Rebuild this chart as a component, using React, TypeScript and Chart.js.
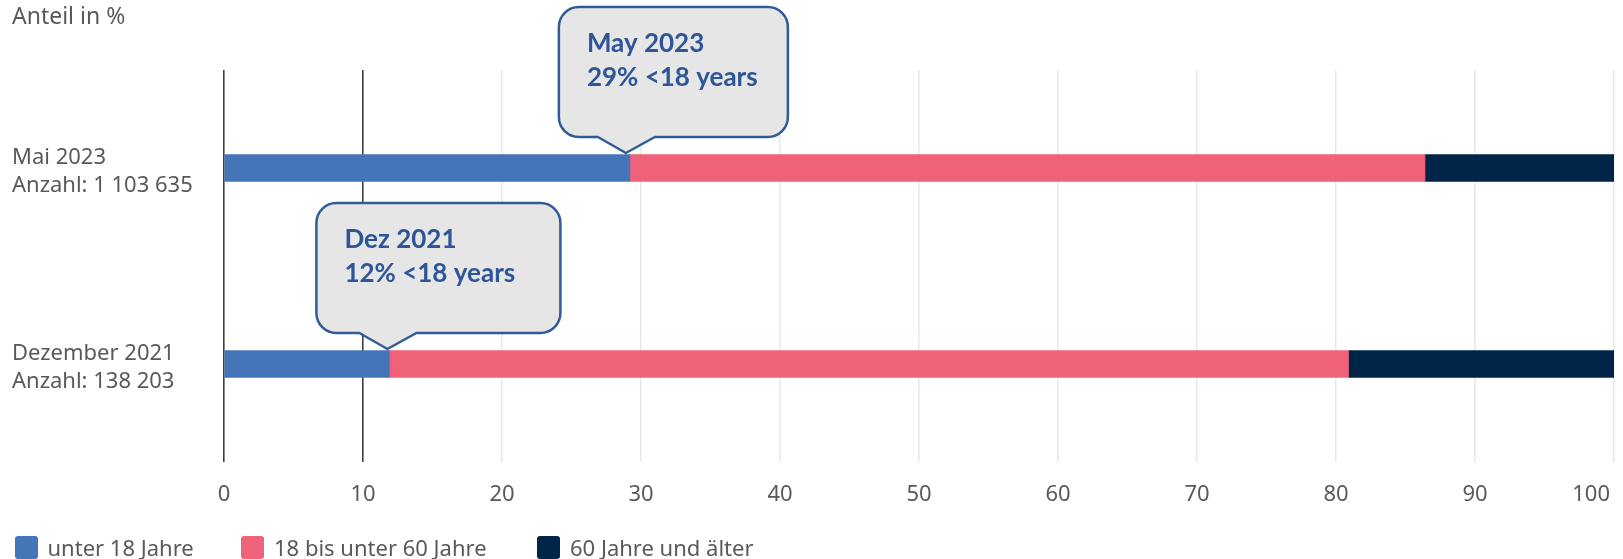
import React, { useEffect, useRef } from 'react';
import { Chart, registerables } from 'chart.js';

Chart.register(...registerables);

// ---------- data ----------
const categories: string[][] = [
  ['Mai 2023', 'Anzahl: 1 103 635'],
  ['Dezember 2021', 'Anzahl: 138 203'],
];
const seriesNames: string[] = ['unter 18 Jahre', '18 bis unter 60 Jahre', '60 Jahre und älter'];
const under18: number[] = [29.2, 11.9];
const from18to60: number[] = [57.2, 69.0];
const over60: number[] = [13.6, 19.1];
const axisTitle = 'Anteil in %';
const calloutTitles: string[] = ['May 2023', 'Dez 2021'];
const calloutTexts: string[] = ['29% <18 years', '12% <18 years'];

// ---------- styles ----------
const seriesColors = ['#4575b9', '#f06279', '#012449'];
const textColor = '#595959';
const FONT = "'Noto Sans', sans-serif";
const legendX = [14.5, 241, 537];
const X_TICK_PAD = 20;

const calloutBoxes = [
  { tipDx: -4, left: -67, width: 229 },
  { tipDx: -2, left: -71, width: 244 },
];

const calloutPlugin = {
  id: 'callouts',
  afterDatasetsDraw(chart: any) {
    const { ctx } = chart;
    const xs = chart.scales.x;
    const meta = chart.getDatasetMeta(0);
    calloutBoxes.forEach((b, i) => {
      const el = meta.data[i];
      if (!el) return;
      const { y, height } = el.getProps(['y', 'height'], true);
      const tipX = xs.getPixelForValue(under18[i]) + b.tipDx;
      const tipY = y - height / 2 - 1.5;
      const L = tipX + b.left;
      const R = L + b.width;
      const T = tipY - 146;
      const B = tipY - 16;
      const r = 20;
      const p1 = tipX - 28;
      const p2 = tipX + 29;
      ctx.save();
      ctx.beginPath();
      ctx.moveTo(L + r, T);
      ctx.lineTo(R - r, T);
      ctx.arcTo(R, T, R, T + r, r);
      ctx.lineTo(R, B - r);
      ctx.arcTo(R, B, R - r, B, r);
      ctx.lineTo(p2, B);
      ctx.lineTo(tipX, tipY);
      ctx.lineTo(p1, B);
      ctx.lineTo(L + r, B);
      ctx.arcTo(L, B, L, B - r, r);
      ctx.lineTo(L, T + r);
      ctx.arcTo(L, T, L + r, T, r);
      ctx.closePath();
      ctx.fillStyle = '#e6e6e6';
      ctx.fill();
      ctx.lineWidth = 2.5;
      ctx.strokeStyle = '#2f5b97';
      ctx.lineJoin = 'round';
      ctx.stroke();
      ctx.fillStyle = '#2e5597';
      ctx.font = "bold 26px Lato, 'Noto Sans', sans-serif";
      ctx.textAlign = 'left';
      ctx.textBaseline = 'alphabetic';
      ctx.fillText(calloutTitles[i], L + 28, T + 44.5);
      ctx.fillText(calloutTexts[i], L + 28, T + 79);
      ctx.restore();
    });
  },
  afterDraw(chart: any) {
    // last tick label shifted inside the canvas
    const { ctx } = chart;
    const xs = chart.scales.x;
    const last = xs.max;
    ctx.save();
    ctx.font = `22px ${FONT}`;
    ctx.fillStyle = textColor;
    ctx.textAlign = 'right';
    ctx.textBaseline = 'middle';
    ctx.fillText(String(last), xs.getPixelForValue(last) - 4, xs.top + X_TICK_PAD + 13.2);
    ctx.restore();
  },
};

export default function App() {
  const canvasRef = useRef<HTMLCanvasElement | null>(null);

  useEffect(() => {
    if (!canvasRef.current) return;
    Chart.defaults.font.family = FONT;
    const chart = new Chart(canvasRef.current, {
      type: 'bar',
      data: {
        labels: categories,
        datasets: [
          { label: seriesNames[0], data: under18, backgroundColor: seriesColors[0], barThickness: 27 },
          { label: seriesNames[1], data: from18to60, backgroundColor: seriesColors[1], barThickness: 27 },
          { label: seriesNames[2], data: over60, backgroundColor: seriesColors[2], barThickness: 27 },
        ],
      },
      options: {
        indexAxis: 'y',
        animation: false,
        responsive: true,
        maintainAspectRatio: false,
        layout: { padding: { left: 12, right: 9, top: 0, bottom: 30.6 } },
        plugins: {
          legend: { display: false },
          tooltip: { enabled: false },
          title: {
            display: true,
            text: axisTitle,
            align: 'start',
            color: textColor,
            font: { family: FONT, size: 23, weight: 'normal', lineHeight: 1.2 },
            padding: { top: 4, bottom: 38.4 },
          },
        },
        scales: {
          x: {
            stacked: true,
            min: 0,
            max: 100,
            ticks: {
              stepSize: 10,
              padding: X_TICK_PAD,
              color: textColor,
              font: { family: FONT, size: 22 },
              maxRotation: 0,
              callback: (v: any) => (Number(v) === 100 ? '' : String(v)),
            },
            grid: {
              drawTicks: false,
              color: (c: any) =>
                c.tick && (c.tick.value === 0 || c.tick.value === 10) ? '#3f3f3f' : '#e8e8e8',
              lineWidth: (c: any) => (c.tick && (c.tick.value === 0 || c.tick.value === 10) ? 1.6 : 1.5),
            },
            border: { display: false },
            afterFit: (s: any) => {
              s.paddingRight = 0;
              s.paddingLeft = 0;
            },
          },
          y: {
            stacked: true,
            grid: { display: false },
            border: { display: false },
            ticks: {
              crossAlign: 'far',
              autoSkip: false,
              labelOffset: 4,
              color: textColor,
              font: { family: FONT, size: 22, lineHeight: 1.27 },
            },
            afterFit: (s: any) => {
              s.width = 212;
              s.paddingTop = 0;
              s.paddingBottom = 0;
            },
          },
        },
      },
      plugins: [calloutPlugin],
    } as any);
    return () => chart.destroy();
  }, []);

  return (
    <div style={{ position: 'absolute', left: 0, top: 0, width: 1623, height: 559, background: '#fff' }}>
      <div style={{ position: 'absolute', left: 0, top: 0, width: 1623, height: 559 }}>
        <canvas ref={canvasRef} />
      </div>
      {seriesNames.map((name, i) => (
        <div
          key={name}
          style={{
            position: 'absolute',
            left: legendX[i],
            top: 535.5,
            height: 23,
            display: 'flex',
            alignItems: 'center',
            fontFamily: FONT,
            fontSize: 22,
            color: textColor,
            whiteSpace: 'nowrap',
          }}
        >
          <span
            style={{
              display: 'inline-block',
              width: 23,
              height: 23,
              borderRadius: 3,
              background: seriesColors[i],
              marginRight: 10,
            }}
          />
          <span style={{ lineHeight: '23px' }}>{name}</span>
        </div>
      ))}
    </div>
  );
}
